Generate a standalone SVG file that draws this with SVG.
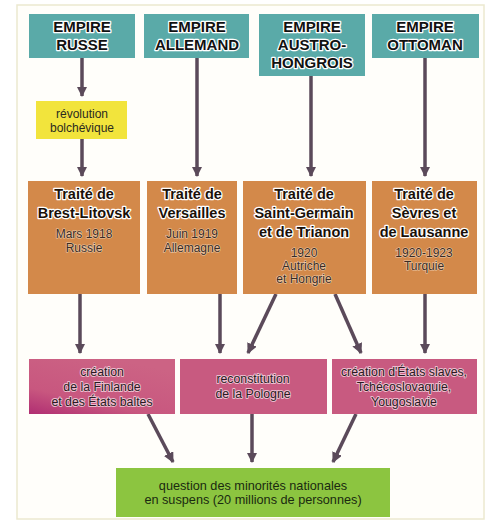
<svg xmlns="http://www.w3.org/2000/svg" width="494" height="526" viewBox="0 0 494 526">
<defs>
<marker id="ah" viewBox="0 0 10 10" refX="9" refY="5" markerWidth="3" markerHeight="3" markerUnits="strokeWidth" orient="auto">
<path d="M0,0 L10,5 L0,10 Z" fill="#5b4a5a"/>
</marker>
<linearGradient id="pinkg" x1="0" y1="1" x2="0.6" y2="0">
<stop offset="0" stop-color="#b02e72"/>
<stop offset="0.35" stop-color="#c8577f"/>
<stop offset="1" stop-color="#cc6384"/>
</linearGradient>
</defs>
<style>
.teal{fill:#5aaaa8;}
.orange{fill:#d3894a;}
.yellow{fill:#f2e43c;}
.pink{fill:#c85a80;}
.green{fill:#8cc540;}
.conn line{stroke:#5b4a5a;stroke-width:3.5;marker-end:url(#ah);}
text{font-family:"Liberation Sans",Arial,sans-serif;text-anchor:middle;}
.h{font-weight:bold;font-size:15px;fill:#111;stroke:#fff;stroke-width:2.5px;paint-order:stroke;stroke-linejoin:round;}
.t{font-weight:bold;font-size:14.5px;fill:#1a1008;stroke:#fff;stroke-width:2.5px;paint-order:stroke;stroke-linejoin:round;}
.s{font-size:12px;fill:#3a2a22;stroke:#f2dcc4;stroke-width:1.2px;paint-order:stroke;stroke-opacity:0.8;}
.p{font-size:12.3px;fill:#2a1a22;stroke:#f8dfe8;stroke-width:1.8px;paint-order:stroke;stroke-opacity:0.75;stroke-linejoin:round;}
.y{font-size:12px;fill:#2a2a20;}
.g{font-size:12.7px;fill:#1a2a10;}
</style>
<rect x="0" y="0" width="494" height="526" fill="#fff"/>
<rect x="17" y="5" width="467" height="514" fill="#fffefa" stroke="#ece9cf" stroke-width="1.5"/>

<g class="conn">
<line x1="82" y1="58" x2="82" y2="96"/>
<line x1="82" y1="139" x2="82" y2="176"/>
<line x1="197" y1="58" x2="197" y2="176"/>
<line x1="311" y1="76" x2="311" y2="176"/>
<line x1="425" y1="58" x2="425" y2="176"/>
<line x1="80" y1="294" x2="80" y2="353"/>
<line x1="220" y1="294" x2="220" y2="353"/>
<line x1="276" y1="294" x2="248" y2="353"/>
<line x1="335" y1="294" x2="361" y2="353"/>
<line x1="425" y1="294" x2="425" y2="353"/>
<line x1="148" y1="414" x2="173" y2="462"/>
<line x1="252" y1="414" x2="252" y2="462"/>
<line x1="356" y1="414" x2="333" y2="462"/>
</g>

<g id="empire-russe">
<rect class="teal" x="29" y="14" width="106" height="44"/>
<text class="h" x="82" y="32">EMPIRE</text>
<text class="h" x="82" y="50">RUSSE</text>
</g>
<g id="empire-allemand">
<rect class="teal" x="144" y="14" width="105" height="44"/>
<text class="h" x="197" y="32">EMPIRE</text>
<text class="h" x="197" y="50">ALLEMAND</text>
</g>
<g id="empire-austro-hongrois">
<rect class="teal" x="259" y="14" width="106" height="62"/>
<text class="h" x="312" y="32">EMPIRE</text>
<text class="h" x="312" y="50">AUSTRO-</text>
<text class="h" x="312" y="68">HONGROIS</text>
</g>
<g id="empire-ottoman">
<rect class="teal" x="372" y="14" width="107" height="44"/>
<text class="h" x="425" y="32">EMPIRE</text>
<text class="h" x="425" y="50">OTTOMAN</text>
</g>

<g id="revolution">
<rect class="yellow" x="36" y="101" width="91" height="38"/>
<text class="y" x="82" y="118">révolution</text>
<text class="y" x="82" y="132">bolchévique</text>
</g>

<g id="traite-brest">
<rect class="orange" x="28" y="181" width="112" height="113"/>
<text class="t" x="84" y="199">Traité de</text>
<text class="t" x="84" y="218">Brest-Litovsk</text>
<text class="s" x="84" y="238">Mars 1918</text>
<text class="s" x="84" y="252">Russie</text>
</g>
<g id="traite-versailles">
<rect class="orange" x="147" y="181" width="90" height="113"/>
<text class="t" x="192" y="199">Traité de</text>
<text class="t" x="192" y="218">Versailles</text>
<text class="s" x="192" y="238">Juin 1919</text>
<text class="s" x="192" y="252">Allemagne</text>
</g>
<g id="traite-saint-germain">
<rect class="orange" x="243" y="181" width="123" height="113"/>
<text class="t" x="304" y="199">Traité de</text>
<text class="t" x="304" y="218">Saint-Germain</text>
<text class="t" x="304" y="237">et de Trianon</text>
<text class="s" x="304" y="257">1920</text>
<text class="s" x="304" y="270">Autriche</text>
<text class="s" x="304" y="283">et Hongrie</text>
</g>
<g id="traite-sevres">
<rect class="orange" x="372" y="181" width="105" height="113"/>
<text class="t" x="424" y="199">Traité de</text>
<text class="t" x="424" y="218">Sèvres et</text>
<text class="t" x="424" y="237">de Lausanne</text>
<text class="s" x="424" y="257">1920-1923</text>
<text class="s" x="424" y="270">Turquie</text>
</g>

<g id="finlande">
<rect fill="url(#pinkg)" x="29" y="359" width="146" height="55"/>
<text class="p" x="102" y="376">création</text>
<text class="p" x="102" y="391">de la Finlande</text>
<text class="p" x="102" y="406">et des États baltes</text>
</g>
<g id="pologne">
<rect class="pink" x="180" y="359" width="147" height="55"/>
<text class="p" x="253" y="383">reconstitution</text>
<text class="p" x="253" y="398">de la Pologne</text>
</g>
<g id="etats-slaves">
<rect class="pink" x="332" y="359" width="145" height="55"/>
<text class="p" x="404" y="376">création d'États slaves,</text>
<text class="p" x="404" y="391">Tchécoslovaquie,</text>
<text class="p" x="404" y="406">Yougoslavie</text>
</g>

<g id="minorites">
<rect class="green" x="116" y="468" width="274" height="49"/>
<text class="g" x="253" y="490">question des minorités nationales</text>
<text class="g" x="253" y="504">en suspens (20 millions de personnes)</text>
</g>
</svg>
